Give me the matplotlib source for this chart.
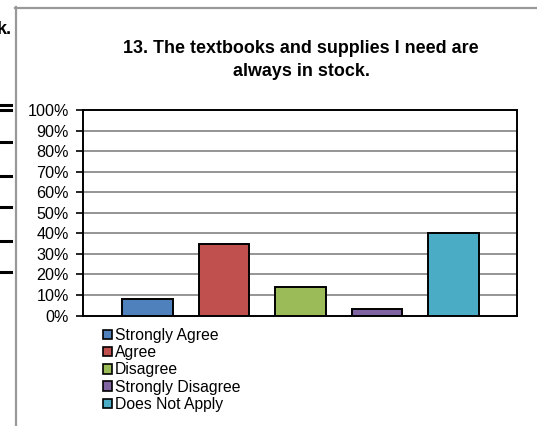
import matplotlib
matplotlib.use("Agg")
import matplotlib.pyplot as plt
from matplotlib.patches import Patch
from matplotlib.lines import Line2D

plt.rcParams['font.family'] = ['Liberation Sans', 'DejaVu Sans']

categories = ["Strongly Agree", "Agree", "Disagree", "Strongly Disagree", "Does Not Apply"]
values = [8, 35, 14, 3, 40]
colors = ["#4F81BD", "#C0504D", "#9BBB59", "#8064A2", "#4BACC6"]
yticks = [0, 10, 20, 30, 40, 50, 60, 70, 80, 90, 100]
title = "13. The textbooks and supplies I need are\nalways in stock."

W, H = 537, 426
fig = plt.figure(figsize=(W / 100, H / 100), dpi=100)

# page background artifacts (frame of screenshot)
fig.add_artist(Line2D([15.5 / W, 15.5 / W], [0, 1 - 7 / H], color="#999999", lw=1.6))
fig.add_artist(Line2D([15 / W, 1], [1 - 7.5 / H, 1 - 7.5 / H], color="#999999", lw=1.6))
fig.text(-3 / W, 1 - 29 / H, "k.", fontsize=13, fontweight="bold", ha="left", va="center")
for yy in [105, 110, 142, 176, 207, 241, 272]:
    fig.add_artist(Line2D([0, 11 / W], [1 - yy / H, 1 - yy / H], color="black", lw=2.2))

ax = fig.add_axes([83 / W, 1 - 315.5 / H, (517 - 83) / W, (315.5 - 110) / H])
x = list(range(len(categories)))
ax.bar(x, values, width=0.66, color=colors, edgecolor="black", linewidth=1.4, zorder=3)
ax.set_xlim(-0.84, 4.83)
ax.set_ylim(0, 100)
ax.set_yticks(yticks)
ax.set_yticklabels([f"{v}%" for v in yticks], fontsize=11.6)
ax.set_xticks([])
ax.yaxis.grid(True, color="#8c8c8c", lw=1.3, zorder=0)
ax.tick_params(axis="y", direction="out", length=5, width=1.2, pad=5)
for s in ax.spines.values():
    s.set_linewidth(1.4)
    s.set_color("black")

fig.text(301 / W, 1 - 60 / H, title, fontsize=12.9, fontweight="bold",
         ha="center", va="center", linespacing=1.45)

handles = [Patch(facecolor=c, edgecolor="black", linewidth=1.2) for c in colors]
fig.legend(handles, categories, loc="upper left", bbox_to_anchor=(103 / W, 1 - 328 / H),
           frameon=False, fontsize=11.3, handlelength=0.55, handleheight=0.55,
           handletextpad=0.2, labelspacing=0.14, borderpad=0, borderaxespad=0)

fig.savefig("out.png", dpi=100)
